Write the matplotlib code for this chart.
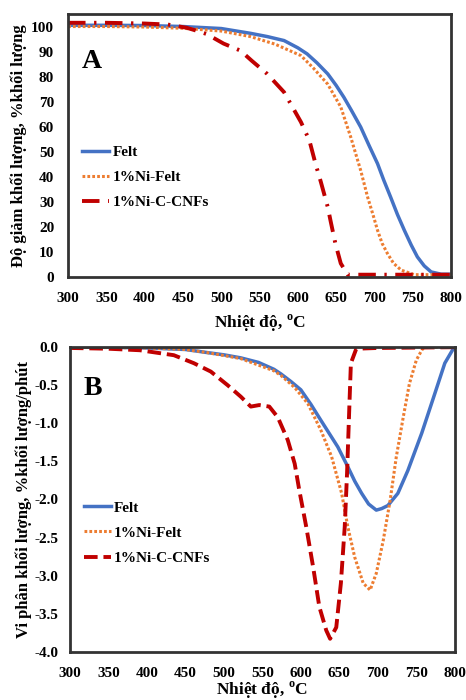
import matplotlib
matplotlib.use("Agg")
import matplotlib.pyplot as plt

plt.rcParams['font.family'] = ['Liberation Serif', 'DejaVu Serif']
plt.rcParams['font.weight'] = 'bold'
plt.rcParams['mathtext.fontset'] = 'custom'
plt.rcParams['mathtext.rm'] = 'Liberation Serif:bold'

# TGA - mass loss (%)
t_felt = [300, 350, 400, 450, 500, 538, 560, 582, 600, 612, 625, 639, 650, 660, 670, 682, 693,
          704, 712, 721, 730, 739, 748, 756, 765, 774, 787, 800]
w_felt = [100.5, 100.5, 100.4, 100.0, 99.2, 97.3, 96.0, 94.4, 91.5, 89.1, 85.5, 81.1, 76.5, 71.8,
          66.5, 59.9, 52.5, 45.3, 38.8, 32, 25, 18.7, 12.8, 8.1, 4.5, 2.1, 1.2, 1.2]
t_nife = [300, 350, 400, 450, 500, 538, 570, 604, 620, 639, 656, 669, 682, 691, 698, 704, 710,
          717, 725, 735, 752, 800]
w_nife = [100, 100, 99.8, 99.3, 98.2, 96, 93, 88.4, 83.5, 77, 67.9, 55.9, 42.6, 32, 25, 18.7,
          13.5, 9.4, 5.5, 2.8, 1.0, 1.0]
t_cnf = [300, 350, 400, 430, 455, 468, 481, 503, 525, 540, 560, 582, 604, 615, 623, 630, 639,
         643, 649, 656, 665, 700, 800]
w_cnf = [101.5, 101.5, 101.2, 100.8, 99.5, 98.3, 97, 93.2, 90.4, 86.3, 81.1, 73.8, 61.9, 54.6,
         45.3, 38, 28, 22, 13.4, 5.5, 1.0, 1.0, 1.0]

# DTG - derivative mass loss (%/min)
d_t_felt = [300, 350, 400, 450, 478, 500, 522, 545, 565, 574, 587, 600, 613, 626, 648, 661, 670,
            679, 688, 698, 705, 713, 726, 739, 757, 774, 787, 798, 800]
d_felt = [0, 0, -0.01, -0.03, -0.07, -0.1, -0.14, -0.2, -0.29, -0.35, -0.45, -0.56, -0.75, -0.96,
          -1.31, -1.57, -1.76, -1.92, -2.06, -2.14, -2.12, -2.08, -1.92, -1.62, -1.13, -0.61,
          -0.21, -0.02, 0]
d_t_nife = [300, 400, 450, 478, 522, 565, 574, 592, 609, 626, 640, 653, 661, 670, 681, 690, 698,
            707, 716, 724, 733, 741, 750, 757, 760, 800]
d_nife = [0, -0.01, -0.03, -0.07, -0.15, -0.31, -0.37, -0.53, -0.74, -1.09, -1.44, -1.92, -2.36,
          -2.76, -3.1, -3.19, -2.97, -2.54, -2.01, -1.44, -0.92, -0.48, -0.17, -0.04, 0, 0]
d_t_cnf = [300, 350, 391, 435, 461, 483, 505, 522, 535, 546, 559, 570, 583, 592, 598, 607, 616,
           624, 633, 638, 646, 652, 657, 660, 663, 665, 672, 700, 800]
d_cnf = [-0.01, -0.02, -0.04, -0.105, -0.21, -0.32, -0.5, -0.65, -0.78, -0.76, -0.78, -0.92,
         -1.22, -1.53, -1.88, -2.36, -2.89, -3.41, -3.72, -3.83, -3.68, -3.1, -2.36, -1.66,
         -0.78, -0.21, -0.02, -0.01, 0]

labels = ['Felt', '1%Ni-Felt', '1%Ni-C-CNFs']
c_blue = '#4472C4'
c_orange = '#ED7D31'
c_red = '#C00000'
dotted = (0, (0.9, 0.7))

fig = plt.figure(figsize=(4.66, 7.0), dpi=100)
ax1 = fig.add_axes([0.146, 0.604, 0.822, 0.376])
ax2 = fig.add_axes([0.150, 0.069, 0.826, 0.435])


def style(ax, ypad, xlabelpad):
    for s in ax.spines.values():
        s.set_linewidth(2)
        s.set_color('#333333')
    ax.tick_params(length=0, labelsize=11)
    ax.tick_params(axis='x', pad=11)
    ax.tick_params(axis='y', pad=ypad)
    ax.set_xlim(300, 800)
    ax.set_xticks(range(300, 801, 50))
    ax.set_xlabel('Nhiệt độ, $^{\\mathrm{o}}$C', fontsize=12.5, fontweight='bold', labelpad=xlabelpad)


ax1.plot(t_felt, w_felt, color=c_blue, lw=2.5, label=labels[0])
ax1.plot(t_nife, w_nife, color=c_orange, lw=2.2, ls=dotted, dash_capstyle='butt', label=labels[1])
ax1.plot(t_cnf, w_cnf, color=c_red, lw=2.8, ls=(0, (4.5, 2.2, 0.6, 2.2)), label=labels[2])
style(ax1, 10, 5)
ax1.set_ylim(0, 105)
ax1.set_yticks(range(0, 101, 10))
ax1.set_ylabel('Độ giảm khối lượng, %khối lượng', fontsize=12, fontweight='bold', labelpad=3)
ax1.text(0.035, 0.795, 'A', transform=ax1.transAxes, fontsize=20, fontweight='bold')
ax1.legend(loc='center left', bbox_to_anchor=(0.0, 0.38), frameon=False, fontsize=11,
           handlelength=1.8, handletextpad=0.2, labelspacing=0.75)

ax2.plot(d_t_felt, d_felt, color=c_blue, lw=2.5, label=labels[0])
ax2.plot(d_t_nife, d_nife, color=c_orange, lw=2.2, ls=dotted, dash_capstyle='butt', label=labels[1])
ax2.plot(d_t_cnf, d_cnf, color=c_red, lw=2.8, ls=(0, (3.5, 1.5)), label=labels[2])
style(ax2, 8, 0)
ax2.set_ylim(-4, 0)
ax2.set_yticks([x / 2 for x in range(-8, 1)])
ax2.set_yticklabels(['%.1f' % (x / 2) for x in range(-8, 1)])
ax2.set_ylabel('Vi phân khối lượng, %khối lượng/phút', fontsize=12, fontweight='bold', labelpad=2)
ax2.text(0.035, 0.843, 'B', transform=ax2.transAxes, fontsize=20, fontweight='bold')
ax2.legend(loc='center left', bbox_to_anchor=(0.0, 0.39), frameon=False, fontsize=11,
           handlelength=1.8, handletextpad=0.2, labelspacing=0.75)

fig.savefig('out.png', dpi=100)
